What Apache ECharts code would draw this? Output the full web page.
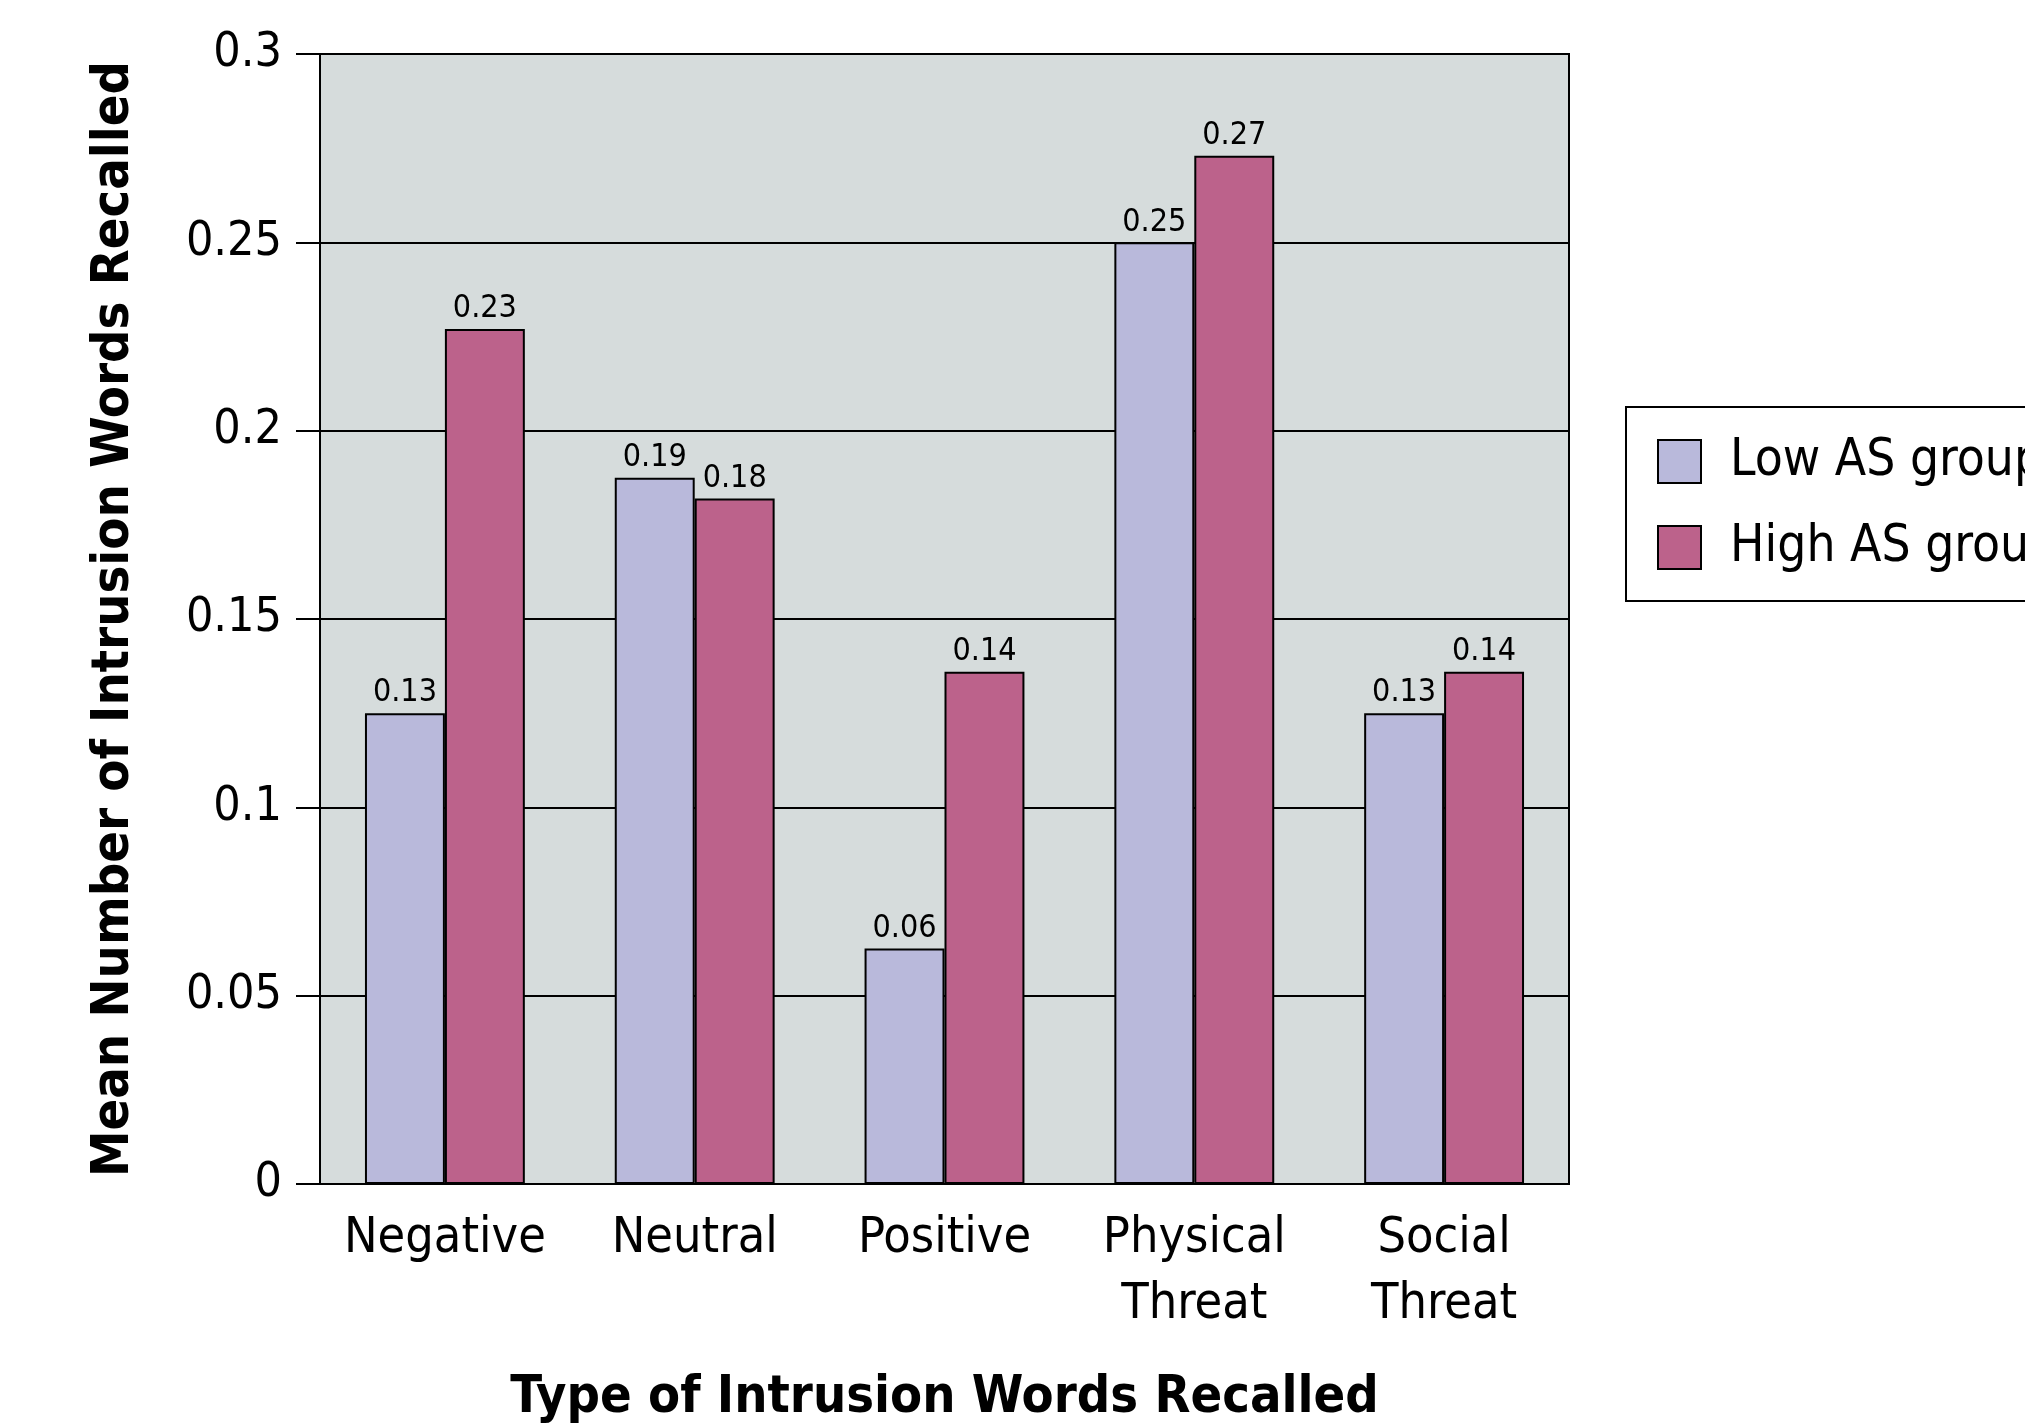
<!DOCTYPE html>
<html>
<head>
<meta charset="utf-8">
<script src="https://cdn.jsdelivr.net/npm/echarts@6/dist/echarts.min.js"></script>
<style>html,body{margin:0;padding:0;background:#fff}#c{width:2025px;height:1424px}</style>
</head>
<body>
<div id="c"></div>
<script>
const categories = ['Negative', 'Neutral', 'Positive', 'Physical\nThreat', 'Social\nThreat'];
const lowValues = [0.125, 0.1875, 0.0625, 0.25, 0.125];
const highValues = [0.227, 0.182, 0.136, 0.273, 0.136];
const lowLabels = ['0.13', '0.19', '0.06', '0.25', '0.13'];
const highLabels = ['0.23', '0.18', '0.14', '0.27', '0.14'];
const seriesNames = ['Low AS group', 'High AS group'];

const FONT = '"Liberation Sans Narrow", "DejaVu Sans Condensed", "Liberation Sans", sans-serif';

const chart = echarts.init(document.getElementById('c'), null, {renderer: 'canvas'});
chart.setOption({
  animation: false,
  backgroundColor: '#ffffff',
  textStyle: {fontFamily: FONT, color: '#000'},
  grid: {
    left: 320, right: 456, top: 54, bottom: 240,
    containLabel: false,
    outerBoundsMode: 'none',
    show: true, backgroundColor: '#D6DCDC', borderColor: '#000', borderWidth: 2
  },
  legend: {
    left: 1626, top: 407,
    orient: 'vertical',
    itemWidth: 43, itemHeight: 43, itemGap: 35,
    padding: [29, 200, 28, 31],
    borderColor: '#000', borderWidth: 2,
    icon: 'rect',
    textStyle: {fontFamily: FONT, fontSize: 51, lineHeight: 43, color: '#000', padding: [0, 0, 0, 24]},
    data: seriesNames
  },
  xAxis: {
    type: 'category',
    data: categories,
    axisLine: {show: true, lineStyle: {color: '#000', width: 2}},
    axisTick: {show: false},
    axisLabel: {interval: 0, fontFamily: FONT, fontSize: 50, color: '#000', margin: 22, lineHeight: 66},
    name: 'Type of Intrusion Words Recalled',
    nameLocation: 'middle',
    nameGap: 188,
    nameTextStyle: {fontFamily: FONT, fontSize: 52, fontWeight: 'bold', color: '#000'}
  },
  yAxis: {
    type: 'value',
    min: 0, max: 0.3, interval: 0.05,
    axisLine: {show: true, lineStyle: {color: '#000', width: 2}},
    axisTick: {show: true, inside: false, length: 24, lineStyle: {color: '#000', width: 2}},
    axisLabel: {fontFamily: FONT, fontSize: 48, color: '#000', margin: 38},
    splitLine: {show: true, lineStyle: {color: '#000', width: 2}},
    name: 'Mean Number of Intrusion Words Recalled',
    nameLocation: 'middle',
    nameGap: 180,
    nameTextStyle: {fontFamily: FONT, fontSize: 52, fontWeight: 'bold', color: '#000'}
  },
  series: [
    {
      name: seriesNames[0], type: 'bar', data: lowValues,
      barGap: '0%', barCategoryGap: '36%',
      itemStyle: {color: '#B9B9DB', borderColor: '#000', borderWidth: 2},
      label: {show: true, position: 'top', distance: 4, fontFamily: FONT, fontSize: 32, color: '#000',
        formatter: p => lowLabels[p.dataIndex]}
    },
    {
      name: seriesNames[1], type: 'bar', data: highValues,
      barGap: '0%', barCategoryGap: '36%',
      itemStyle: {color: '#BC628B', borderColor: '#000', borderWidth: 2},
      label: {show: true, position: 'top', distance: 4, fontFamily: FONT, fontSize: 32, color: '#000',
        formatter: p => highLabels[p.dataIndex]}
    }
  ]
});
</script>
</body>
</html>
